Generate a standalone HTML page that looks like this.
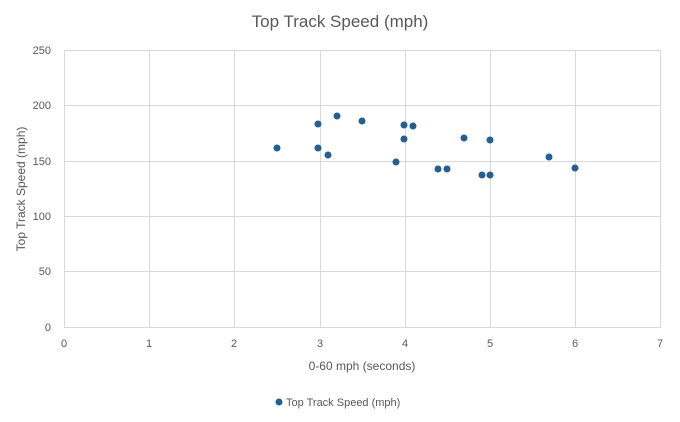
<!DOCTYPE html>
<html><head><meta charset="utf-8"><style>
html,body{margin:0;padding:0;background:#fff;}
svg{display:block;font-family:"Liberation Sans",Arial,sans-serif;}
</style></head><body>
<svg width="680" height="422" viewBox="0 0 680 422">
<rect width="680" height="422" fill="#fff"/>
<text x="340" y="27" text-anchor="middle" font-size="17" fill="#595959">Top Track Speed (mph)</text>
<g stroke="#d9d9d9" stroke-width="1">
<line x1="64" y1="50.5" x2="661" y2="50.5"/>
<line x1="64" y1="105.5" x2="661" y2="105.5"/>
<line x1="64" y1="161.5" x2="661" y2="161.5"/>
<line x1="64" y1="216.5" x2="661" y2="216.5"/>
<line x1="64" y1="271.5" x2="661" y2="271.5"/>
<line x1="64" y1="327.5" x2="661" y2="327.5"/>
<line x1="64.5" y1="50" x2="64.5" y2="327"/>
<line x1="149.5" y1="50" x2="149.5" y2="327"/>
<line x1="234.5" y1="50" x2="234.5" y2="327"/>
<line x1="320.5" y1="50" x2="320.5" y2="327"/>
<line x1="405.5" y1="50" x2="405.5" y2="327"/>
<line x1="490.5" y1="50" x2="490.5" y2="327"/>
<line x1="575.5" y1="50" x2="575.5" y2="327"/>
<line x1="660.5" y1="50" x2="660.5" y2="327"/>
</g>
<g font-size="11" fill="#595959" text-anchor="end">
<text x="51" y="54">250</text><text x="51" y="109">200</text><text x="51" y="165">150</text>
<text x="51" y="220">100</text><text x="51" y="275">50</text><text x="51" y="331">0</text>
</g>
<g font-size="11" fill="#595959" text-anchor="middle">
<text x="64" y="347">0</text><text x="149" y="347">1</text><text x="234" y="347">2</text><text x="320" y="347">3</text>
<text x="405" y="347">4</text><text x="490" y="347">5</text><text x="575" y="347">6</text><text x="660" y="347">7</text>
</g>
<text x="362" y="370" text-anchor="middle" font-size="12" fill="#595959">0-60 mph (seconds)</text>
<text transform="translate(25,189) rotate(-90)" text-anchor="middle" font-size="12" fill="#595959">Top Track Speed (mph)</text>
<g fill="#255e91">
<circle cx="277" cy="148" r="3.5"/><circle cx="318" cy="124" r="3.5"/><circle cx="318" cy="148" r="3.5"/>
<circle cx="328" cy="155" r="3.5"/><circle cx="337" cy="116" r="3.5"/><circle cx="362" cy="121" r="3.5"/>
<circle cx="396" cy="162" r="3.5"/><circle cx="404" cy="125" r="3.5"/><circle cx="404" cy="139" r="3.5"/>
<circle cx="413" cy="126" r="3.5"/><circle cx="438" cy="169" r="3.5"/><circle cx="447" cy="169" r="3.5"/>
<circle cx="464" cy="138" r="3.5"/><circle cx="482" cy="175" r="3.5"/><circle cx="490" cy="175" r="3.5"/>
<circle cx="490" cy="140" r="3.5"/><circle cx="549" cy="157" r="3.5"/><circle cx="575" cy="168" r="3.5"/>
<circle cx="279" cy="402" r="3.5"/>
</g>
<text x="286" y="406" font-size="11" fill="#595959">Top Track Speed (mph)</text>
</svg>
</body></html>
